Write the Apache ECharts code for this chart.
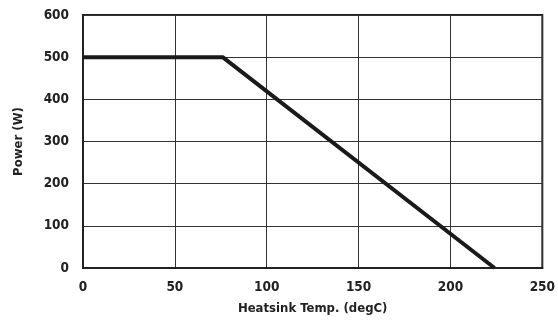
<!DOCTYPE html>
<html><head><meta charset="utf-8">
<script src="https://cdn.jsdelivr.net/npm/echarts@6/dist/echarts.min.js"></script>
<style>html,body{margin:0;padding:0;background:#fff}#c{width:558px;height:321px}</style>
</head><body><div id="c"></div>
<script>
const temps = [0, 76, 224];
const power = [500, 500, 0];
const xTicks = [0, 50, 100, 150, 200, 250];
const yTicks = [0, 100, 200, 300, 400, 500, 600];
const FONT = "'DejaVu Sans Condensed', 'Liberation Sans', sans-serif";
const chart = echarts.init(document.getElementById('c'), null, {renderer: 'canvas'});
chart.setOption({
  animation: false,
  backgroundColor: '#fff',
  grid: {left: 83, right: 14, top: 15, bottom: 53, show: true, borderColor: '#222', borderWidth: 2},
  xAxis: {
    type: 'value', min: xTicks[0], max: xTicks[xTicks.length-1], interval: 50,
    name: 'Heatsink Temp. (degC)', nameLocation: 'middle', nameGap: 34,
    nameTextStyle: {fontFamily: FONT, fontWeight: 'bold', fontSize: 13, color: '#222'},
    axisLine: {show: true, lineStyle: {color: '#222', width: 2}},
    axisTick: {show: false},
    axisLabel: {fontFamily: FONT, fontWeight: 'bold', fontSize: 13.5, color: '#222', margin: 12},
    splitLine: {show: true, lineStyle: {color: '#333', width: 1}}
  },
  yAxis: {
    type: 'value', min: yTicks[0], max: yTicks[yTicks.length-1], interval: 100,
    name: 'Power (W)', nameLocation: 'middle', nameGap: 58, nameRotate: 90,
    nameTextStyle: {fontFamily: FONT, fontWeight: 'bold', fontSize: 13, color: '#222'},
    axisLine: {show: true, lineStyle: {color: '#222', width: 2}},
    axisTick: {show: false},
    axisLabel: {fontFamily: FONT, fontWeight: 'bold', fontSize: 13.5, color: '#222', margin: 14},
    splitLine: {show: true, lineStyle: {color: '#333', width: 1}}
  },
  series: [{
    type: 'line', data: temps.map((t, i) => [t, power[i]]),
    symbol: 'none', lineStyle: {color: '#1a1a1a', width: 4}
  }]
});
</script></body></html>
